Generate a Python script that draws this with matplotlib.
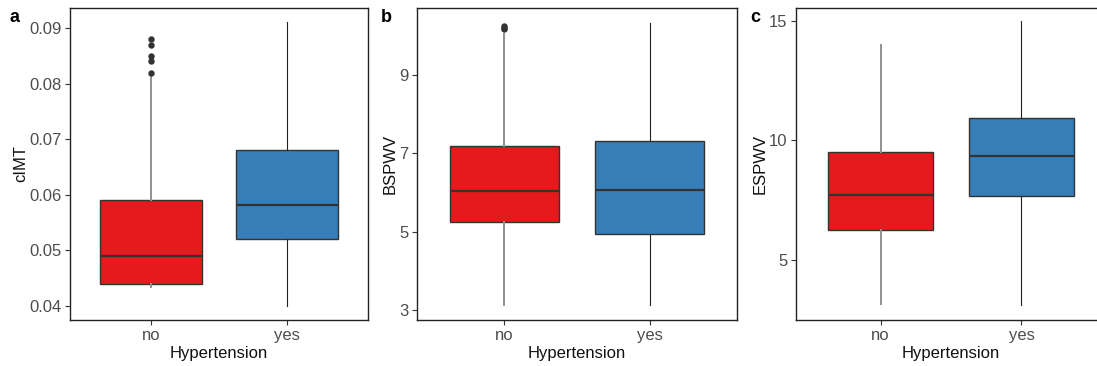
import matplotlib
matplotlib.use("Agg")
import matplotlib.pyplot as plt

plt.rcParams['font.family'] = ['Liberation Sans', 'DejaVu Sans']

groups = ["no", "yes"]
colors = ["#E41A1C", "#377EB8"]
xlabel = "Hypertension"

# box stats per panel: (whislo, q1, med, q3, whishi, fliers)
cimt_stats = [(0.0434, 0.044, 0.049, 0.059, 0.0813, [0.088, 0.0869, 0.085, 0.0841, 0.082]),
              (0.040, 0.052, 0.0582, 0.068, 0.091, [])]
bspwv_stats = [(3.13, 5.24, 6.04, 7.18, 10.05, [10.16, 10.2, 10.23]),
               (3.13, 4.94, 6.06, 7.30, 10.33, [])]
espwv_stats = [(3.14, 6.23, 7.70, 9.50, 14.0, []),
               (3.10, 7.67, 9.36, 10.95, 15.0, [])]

panels = [
    ("a", "cIMT", cimt_stats, [0.04, 0.05, 0.06, 0.07, 0.08, 0.09],
     ["0.04", "0.05", "0.06", "0.07", "0.08", "0.09"], (0.0375, 0.0936)),
    ("b", "BSPWV", bspwv_stats, [3, 5, 7, 9], ["3", "5", "7", "9"], (2.753, 10.70)),
    ("c", "ESPWV", espwv_stats, [5, 10, 15], ["5", "10", "15"], (2.474, 15.545)),
]

W, H = 1097, 366
fig = plt.figure(figsize=(W / 100, H / 100), dpi=100)

# axes boxes in pixels: left, right
ax_px = [(70, 368), (417, 737), (796, 1106)]
top_px, bot_px = 8, 320
label_px = [(15, 18), (386, 17), (755, 18)]

for (tag, ylab, stats, yt, ytl, ylim), (l, r), (lx, ly) in zip(panels, ax_px, label_px):
    ax = fig.add_axes([l / W, 1 - bot_px / H, (r - l) / W, (bot_px - top_px) / H])
    bstats = []
    for g, s in zip(groups, stats):
        bstats.append(dict(label=g, whislo=s[0], q1=s[1], med=s[2], q3=s[3], whishi=s[4], fliers=s[5]))
    bp = ax.bxp(bstats, positions=[1, 2], widths=0.75, patch_artist=True, showcaps=False,
                medianprops=dict(color="#333333", lw=1.6),
                flierprops=dict(marker="o", markersize=3.6, markerfacecolor="#333333",
                                markeredgecolor="#333333"))
    for i, box in enumerate(bp["boxes"]):
        box.set_facecolor(colors[i])
        box.set_edgecolor("#333333")
        box.set_linewidth(1.0)
    for j, w in enumerate(bp["whiskers"]):
        if j < 2:
            w.set_color("#909090")
            w.set_linewidth(1.4)
        else:
            w.set_color("#222222")
            w.set_linewidth(0.8)
    ax.set_xlim(0.4, 2.6)
    ax.set_ylim(*ylim)
    ax.set_yticks(yt)
    ax.set_yticklabels(ytl)
    ax.set_xticks([1, 2])
    ax.set_xticklabels(groups)
    ax.tick_params(axis="both", direction="out", length=3.5, width=0.8, color="#333333",
                   labelsize=12, labelcolor="#4d4d4d", pad=2.5)
    for sp in ax.spines.values():
        sp.set_color("#222222")
        sp.set_linewidth(1.0)
    ax.set_ylabel(ylab, fontsize=12, color="#111111", labelpad=1)
    ax.set_xlabel(xlabel, fontsize=12, color="#111111", labelpad=2)
    fig.text(lx / W, 1 - ly / H, tag, fontsize=13, fontweight="bold", ha="center", va="center")

fig.savefig("out.png", dpi=100)
